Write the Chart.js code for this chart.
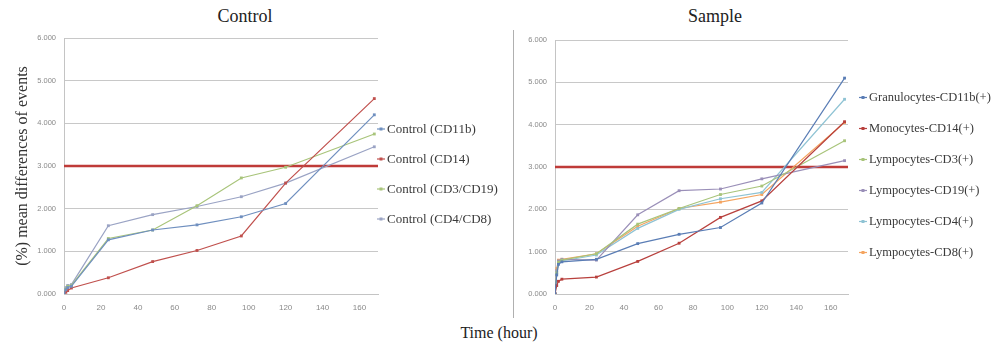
<!DOCTYPE html>
<html lang="en">
<head>
<meta charset="UTF-8">
<title>Control / Sample</title>
<script src="https://cdn.jsdelivr.net/npm/chart.js"></script>
<style>
  body { margin: 0; width: 998px; height: 349px; background: #fff; position: relative; overflow: hidden; font-family: "Liberation Serif", serif; color: #222; }
  .box { position: absolute; top: 0; height: 316px; }
  #leftBox { left: 0; width: 513px; }
  #rightBox { left: 514px; width: 484px; }
  .sep { position: absolute; left: 513px; top: 30px; width: 1px; height: 288px; background: #b0b0b0; }
  .ttl { position: absolute; top: 6px; font-size: 18px; transform: translateX(-50%); white-space: nowrap; }
  #xTitle { position: absolute; left: 499px; top: 324px; font-size: 16px; transform: translateX(-50%); white-space: nowrap; }
</style>
</head>
<body>
<div class="ttl" style="left:245px">Control</div>
<div class="ttl" style="left:715px">Sample</div>
<div class="box" id="leftBox"><canvas id="left"></canvas></div>
<div class="sep"></div>
<div class="box" id="rightBox"><canvas id="right"></canvas></div>
<div id="xTitle">Time (hour)</div>

<script>
  // time points (hours)
  const hours = [0, 1, 2, 4, 24, 48, 72, 96, 120, 168];
  const threshold = 3;

  // Control panel
  const controlLabels = ["Control (CD11b)", "Control (CD14)", "Control (CD3/CD19)", "Control (CD4/CD8)"];
  const ctrlCD11b  = [0, 0.10, 0.15, 0.18, 1.27, 1.50, 1.62, 1.81, 2.12, 4.20];
  const ctrlCD14   = [0, 0.04, 0.08, 0.14, 0.38, 0.76, 1.02, 1.36, 2.60, 4.58];
  const ctrlCD3_19 = [0, 0.12, 0.18, 0.20, 1.30, 1.50, 2.07, 2.72, 2.97, 3.75];
  const ctrlCD4_8  = [0, 0.15, 0.20, 0.22, 1.60, 1.86, 2.05, 2.28, 2.60, 3.45];

  // Sample panel
  const sampleLabels = ["Granulocytes-CD11b(+)", "Monocytes-CD14(+)", "Lympocytes-CD3(+)",
                        "Lympocytes-CD19(+)", "Lympocytes-CD4(+)", "Lympocytes-CD8(+)"];
  const granCD11b = [0, 0.45, 0.70, 0.76, 0.82, 1.19, 1.41, 1.57, 2.15, 5.10];
  const monoCD14  = [0, 0.20, 0.30, 0.35, 0.40, 0.77, 1.20, 1.81, 2.20, 4.07];
  const lymCD3    = [0, 0.50, 0.75, 0.80, 0.95, 1.65, 2.02, 2.35, 2.55, 3.62];
  const lymCD19   = [0, 0.55, 0.78, 0.82, 0.80, 1.87, 2.44, 2.48, 2.72, 3.15];
  const lymCD4    = [0, 0.50, 0.72, 0.78, 0.92, 1.55, 2.00, 2.25, 2.40, 4.60];
  const lymCD8    = [0, 0.60, 0.80, 0.82, 0.95, 1.60, 2.02, 2.17, 2.35, 4.05];

  const yTicks = [0, 1, 2, 3, 4, 5, 6];
  const xTicks = [0, 20, 40, 60, 80, 100, 120, 140, 160];

  const serif = "'Liberation Serif', 'Times New Roman', serif";
  const sans = "'Liberation Sans', Arial, sans-serif";

  // Excel-like legend to the right of the plot (built-in one gets squeezed)
  const sideLegend = {
    id: "sideLegend",
    afterDraw(chart, args, opts) {
      const ctx = chart.ctx;
      const area = chart.chartArea;
      const sets = chart.data.datasets.filter(d => d.label !== "threshold");
      const mid = (area.top + area.bottom) / 2 + 8;
      const y0 = mid - (sets.length - 1) * opts.gap / 2;
      ctx.save();
      ctx.font = opts.size + "px " + serif;
      ctx.textBaseline = "middle";
      sets.forEach((d, i) => {
        const y = y0 + i * opts.gap;
        const x = area.right + opts.offset;
        ctx.strokeStyle = d.borderColor;
        ctx.lineWidth = 1.2;
        ctx.beginPath();
        ctx.moveTo(x, y);
        ctx.lineTo(x + 8, y);
        ctx.stroke();
        ctx.fillStyle = d.borderColor;
        ctx.fillRect(x + 2.5, y - 1.5, 3, 3);
        ctx.fillStyle = "#3a3a3a";
        ctx.fillText(d.label, x + 10, y + 0.5);
      });
      ctx.restore();
    }
  };

  function series(label, values, color) {
    return {
      label,
      data: hours.map((h, i) => ({ x: h, y: values[i] })),
      borderColor: color,
      backgroundColor: color,
      borderWidth: 1.2,
      pointStyle: "rect",
      pointRadius: 2,
      pointBorderWidth: 0,
      tension: 0
    };
  }

  function thresholdLine() {
    return {
      label: "threshold",
      data: [{ x: 0, y: threshold }, { x: 170, y: threshold }],
      borderColor: "#bf3b38",
      borderWidth: 2.5,
      pointRadius: 0
    };
  }

  function options(yWidth, top, right, legend, yTitle) {
    return {
      responsive: true,
      maintainAspectRatio: false,
      animation: false,
      layout: { padding: { top: top, bottom: 2, left: 0, right: right } },
      plugins: {
        title: { display: false },
        tooltip: { enabled: false },
        legend: { display: false },
        sideLegend: legend
      },
      scales: {
        x: {
          type: "linear",
          min: 0,
          max: 170,
          afterBuildTicks: axis => { axis.ticks = xTicks.map(v => ({ value: v })); },
          afterFit: scale => { scale.height = 20; },
          grid: { display: false },
          border: { display: true, color: "#c4c4c4" },
          ticks: { font: { family: sans, size: 8 }, color: "#8a8a8a", padding: 1 }
        },
        y: {
          min: 0,
          max: 6,
          afterBuildTicks: axis => { axis.ticks = yTicks.map(v => ({ value: v })); },
          afterFit: scale => { scale.width = yWidth; },
          grid: { color: "#c8c8c8", lineWidth: 1, drawTicks: false },
          border: { display: true, color: "#c4c4c4" },
          ticks: {
            font: { family: sans, size: 7.5 },
            color: "#8a8a8a",
            padding: 8,
            callback: v => v.toFixed(3)
          },
          title: {
            display: !!yTitle,
            text: yTitle || "",
            font: { family: serif, size: 16 },
            color: "#333",
            padding: { top: 13, bottom: 0 }
          }
        }
      }
    };
  }

  new Chart(document.getElementById("left"), {
    type: "line",
    data: {
      datasets: [
        series(controlLabels[0], ctrlCD11b, "#6f8fbf"),
        series(controlLabels[1], ctrlCD14, "#c0504d"),
        series(controlLabels[2], ctrlCD3_19, "#a8c47a"),
        series(controlLabels[3], ctrlCD4_8, "#9aa3c4"),
        thresholdLine()
      ]
    },
    options: options(64, 38, 135, { gap: 30, offset: -1, size: 13 }, "(%) mean differences of events"),
    plugins: [sideLegend]
  });

  new Chart(document.getElementById("right"), {
    type: "line",
    data: {
      datasets: [
        series(sampleLabels[0], granCD11b, "#5a7db5"),
        series(sampleLabels[1], monoCD14, "#b8403d"),
        series(sampleLabels[2], lymCD3, "#a8c47a"),
        series(sampleLabels[3], lymCD19, "#9a8fb8"),
        series(sampleLabels[4], lymCD4, "#8fc3d4"),
        series(sampleLabels[5], lymCD8, "#f4a460"),
        thresholdLine()
      ]
    },
    options: options(41, 40, 150, { gap: 31, offset: 11, size: 12.5 }, ""),
    plugins: [sideLegend]
  });
</script>
</body>
</html>
